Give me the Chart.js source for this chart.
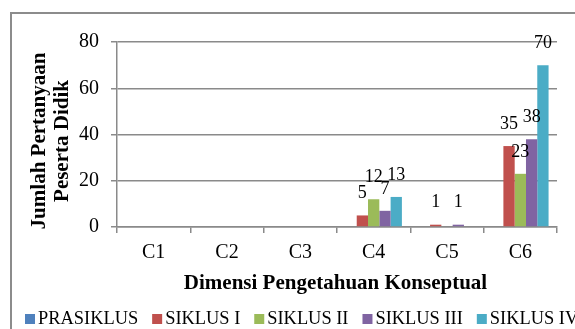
<!DOCTYPE html>
<html>
<head>
<meta charset="utf-8">
<script src="https://cdn.jsdelivr.net/npm/chart.js@4/dist/chart.umd.min.js"></script>
<style>
  html, body { margin: 0; padding: 0; background: #fff; overflow: hidden; }
  #wrap { width: 575px; height: 329px; position: relative; }
</style>
</head>
<body>
<div id="wrap"><canvas id="c" width="575" height="329"></canvas></div>
<script>
// Categories and series values
const categories = ['C1', 'C2', 'C3', 'C4', 'C5', 'C6'];
const seriesNames = ['PRASIKLUS', 'SIKLUS I', 'SIKLUS II', 'SIKLUS III', 'SIKLUS IV'];
const prasiklus = [0, 0, 0, 0, 0, 0];
const siklus1   = [0, 0, 0, 5, 1, 35];
const siklus2   = [0, 0, 0, 12, 0, 23];
const siklus3   = [0, 0, 0, 7, 1, 38];
const siklus4   = [0, 0, 0, 13, 0, 70];
const yTicks = [0, 20, 40, 60, 80];
const seriesColors = ['#4F81BD', '#C0504D', '#9BBB59', '#8064A2', '#4BACC6'];
const xTitle = 'Dimensi Pengetahuan Konseptual';
const yTitle = ['Jumlah Pertanyaan', 'Peserta Didik'];

const SERIF = '"Liberation Serif", "Times New Roman", serif';
const GRID = '#8a8a8a';
Chart.defaults.font.family = SERIF;
Chart.defaults.color = '#000';

const seriesValues = [prasiklus, siklus1, siklus2, siklus3, siklus4];

// Outer frame of the chart (continues past the canvas edge)
const framePlugin = {
  id: 'frame',
  beforeDraw(chart) {
    const ctx = chart.ctx;
    ctx.save();
    ctx.strokeStyle = '#8c8c8c';
    ctx.lineWidth = 2;
    ctx.strokeRect(11, 13, 700, 400);
    ctx.restore();
  }
};

// Value labels above each non-zero bar
const valueLabels = {
  id: 'valueLabels',
  afterDatasetsDraw(chart) {
    const ctx = chart.ctx;
    ctx.save();
    ctx.font = '18px ' + SERIF;
    ctx.fillStyle = '#000';
    ctx.textAlign = 'center';
    ctx.textBaseline = 'middle';
    chart.data.datasets.forEach((ds, i) => {
      const meta = chart.getDatasetMeta(i);
      meta.data.forEach((bar, j) => {
        const v = ds.data[j];
        if (!v) return;
        ctx.fillText(String(v), bar.x, bar.y - 22);
      });
    });
    ctx.restore();
  }
};

// Axis titles
const axisTitles = {
  id: 'axisTitles',
  afterDraw(chart) {
    const ctx = chart.ctx;
    const a = chart.chartArea;
    ctx.save();
    ctx.fillStyle = '#000';
    ctx.font = 'bold 21px ' + SERIF;
    ctx.textAlign = 'center';
    ctx.textBaseline = 'middle';
    ctx.fillText(xTitle, (a.left + a.right) / 2 - 1.5, a.bottom + 57);
    const cy = (a.top + a.bottom) / 2 + 6.5;
    const xs = [a.left - 77, a.left - 54];
    yTitle.forEach((line, k) => {
      ctx.save();
      ctx.translate(xs[k], cy);
      ctx.rotate(-Math.PI / 2);
      ctx.fillText(line, 0, 0);
      ctx.restore();
    });
    ctx.restore();
  }
};

// Legend row along the bottom
const legendRow = {
  id: 'legendRow',
  afterDraw(chart) {
    const ctx = chart.ctx;
    ctx.save();
    ctx.font = '18.4px ' + SERIF;
    ctx.textAlign = 'left';
    ctx.textBaseline = 'middle';
    let x = 25;
    const y = 319;
    chart.data.datasets.forEach(ds => {
      ctx.fillStyle = ds.backgroundColor;
      ctx.fillRect(x, y - 5, 10, 10);
      ctx.fillStyle = '#000';
      ctx.fillText(ds.label, x + 13, y);
      x += 13 + ctx.measureText(ds.label).width + 14;
    });
    ctx.restore();
  }
};

new Chart(document.getElementById('c'), {
  type: 'bar',
  data: {
    labels: categories,
    datasets: seriesNames.map((name, i) => ({
      label: name,
      data: seriesValues[i],
      backgroundColor: seriesColors[i],
      borderWidth: 0,
      barPercentage: 1.0,
      categoryPercentage: 0.77
    }))
  },
  options: {
    responsive: false,
    animation: false,
    devicePixelRatio: 1,
    layout: { padding: { top: 42, right: 18, left: 0, bottom: 0 } },
    plugins: {
      legend: { display: false },
      tooltip: { enabled: false },
      title: { display: false }
    },
    scales: {
      x: {
        grid: {
          display: true,
          offset: true,
          drawOnChartArea: false,
          drawTicks: true,
          tickLength: 6,
          color: GRID,
          lineWidth: 1.5
        },
        border: { display: true, color: GRID, width: 1.5 },
        ticks: { font: { size: 20, family: SERIF }, color: '#000', padding: 8, maxRotation: 0 },
        afterFit(scale) { scale.height = 102; }
      },
      y: {
        min: 0,
        max: 80,
        afterBuildTicks(scale) { scale.ticks = yTicks.map(v => ({ value: v })); },
        grid: {
          color: GRID,
          lineWidth: 1.5,
          drawTicks: true,
          tickLength: 6
        },
        border: { display: true, color: GRID, width: 1.5 },
        ticks: { font: { size: 20, family: SERIF }, color: '#000', padding: 12 },
        afterFit(scale) { scale.width = 117; }
      }
    }
  },
  plugins: [framePlugin, valueLabels, axisTitles, legendRow]
});
</script>
</body>
</html>
